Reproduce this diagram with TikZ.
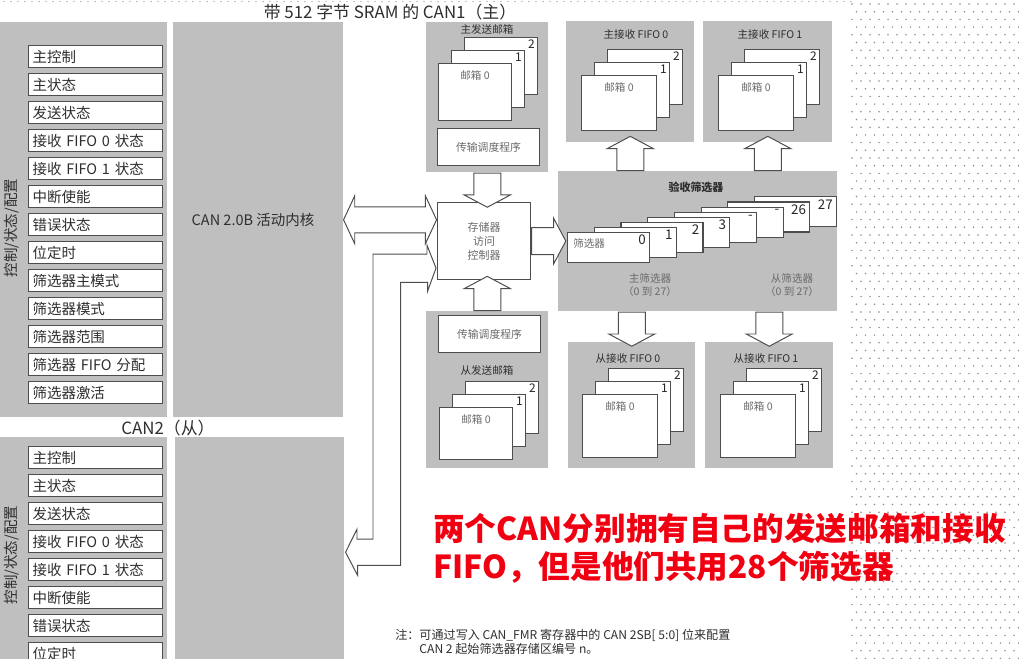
\documentclass[tikz,border=0pt]{standalone}
\usepackage{fontspec}
\setmainfont{Noto Sans CJK SC}
\usetikzlibrary{calc,shapes.arrows}
\definecolor{panelgray}{HTML}{BFBFBF}
\definecolor{edgegray}{HTML}{4D4D4D}
\definecolor{textgray}{HTML}{2E2E2E}
\definecolor{labelgray}{HTML}{6A6A6A}
\definecolor{dotgray}{HTML}{8C8C8C}
\definecolor{alertred}{HTML}{F00010}
\newcommand{\pu}{0.025cm}
\newcommand{\fsz}[2]{\fontsize{#1}{#2}\selectfont}
% stack of three mailboxes: name, x, y of box 0 (top left), width, height
\newcommand{\mailstack}[5]{%
  \foreach \k in {2,1} {
    \node[mbox, minimum width=#4*\pu, minimum height=#5*\pu] (#1-\k) at (#2+13*\k, #3-13*\k) {};
    \node[mbnum] (#1-n\k) at ([shift={(-3,3)}]#1-\k.north east) {\k};
  }
  \node[mbox, minimum width=#4*\pu, minimum height=#5*\pu] (#1-0) at (#2,#3) {};
  \node[mblab, anchor=north] (#1-n0) at ([shift={(0,7)}]#1-0.north) {邮箱 0};
}

\begin{document}
\begin{tikzpicture}[x=\pu, y=-\pu,
  panel/.style={fill=panelgray, anchor=north west, inner sep=0pt},
  regbox/.style={draw=edgegray, line width=0.8pt, fill=white, anchor=north west,
    minimum height=22*\pu, text width=126*\pu, inner xsep=4*\pu, inner ysep=0pt,
    align=left, font=\fsz{10.3}{12}, text=textgray},
  mbox/.style={draw=edgegray, line width=0.8pt, fill=white, anchor=north west, inner sep=0pt},
  mbnum/.style={anchor=north east, inner sep=0pt, font=\fsz{8.5}{10}, text=black!85},
  mblab/.style={inner sep=0pt, font=\fsz{7.5}{9}, text=labelgray},
  grptitle/.style={inner sep=0pt, font=\fsz{7.5}{9}, text=textgray},
  sched/.style={mbox, minimum width=102*\pu, minimum height=37*\pu, font=\fsz{7.7}{9}, text=labelgray},
  card/.style={mbox, minimum width=82*\pu, minimum height=30*\pu},
  barrow/.style={single arrow, draw=edgegray, fill=white, line width=0.7pt, inner sep=13*\pu,
    single arrow head extend=9.5*\pu, single arrow tip angle=124, anchor=tail},
  dblarrow/.style={double arrow, draw=edgegray, fill=white, line width=0.7pt, inner sep=12.5*\pu,
    double arrow head extend=11*\pu, double arrow tip angle=130},
  busline/.style={draw=edgegray, fill=white, line width=0.7pt},
  vlab/.style={rotate=90, inner sep=0pt, font=\fsz{10.3}{12}, text=textgray},
  heading/.style={inner sep=0pt, font=\fsz{12}{14}, text=textgray},
  redtxt/.style={anchor=base west, inner sep=0pt, font=\fsz{22.5}{27}\bfseries, text=alertred},
  notetxt/.style={anchor=north west, inner sep=0pt, align=left, font=\fsz{8.6}{10}, text=textgray}]
  \clip (0,0) rectangle (1019,658);
  % ---- dotted backdrop ----
  \foreach \r in {0,...,85}
    \foreach \c in {0,...,18}
      \fill[dotgray] ({852+9*\c+4.5*mod(\r,2)}, {4+7.7*\r}) circle (0.85);
  \foreach \c in {0,...,121}
    \fill[dotgray] (4+7*\c, 1.5) circle (0.7);

  % ---- CAN1 (master) ----
  \node[heading] (t1) at (390,12) {带 512 字节 SRAM 的 CAN1（主）};
  \node[panel, minimum width=167*\pu, minimum height=395*\pu] (reg1) at (0,22) {};
  \node[panel, minimum width=170*\pu, minimum height=395*\pu] (core1) at (173,22) {};
  \node[vlab] (v1) at (12,228) {控制/状态/配置};
  \foreach \t [count=\i from 0] in {主控制,主状态,发送状态,接收 FIFO 0 状态,接收 FIFO 1 状态,
      中断使能,错误状态,位定时,筛选器主模式,筛选器模式,筛选器范围,筛选器 FIFO 分配,筛选器激活}
    \node[regbox] (ra\i) at (28,45+28*\i) {\t};
  \node[inner sep=0pt, font=\fsz{10.3}{12}, text=textgray] (k1) at (253,220) {CAN 2.0B 活动内核};

  % ---- CAN2 (slave) ----
  \node[heading] (t2) at (168,428) {CAN2（从）};
  \node[panel, minimum width=167*\pu, minimum height=230*\pu] (reg2) at (0,437) {};
  \node[panel, minimum width=169*\pu, minimum height=230*\pu] (core2) at (175,437) {};
  \node[vlab] (v2) at (12,555) {控制/状态/配置};
  \foreach \t [count=\i from 0] in {主控制,主状态,发送状态,接收 FIFO 0 状态,接收 FIFO 1 状态,
      中断使能,错误状态,位定时}
    \node[regbox] (rb\i) at (28,446+28*\i) {\t};

  % ---- transmit mailboxes ----
  \node[panel, minimum width=122*\pu, minimum height=150*\pu] (mtx) at (426,22) {};
  \node[grptitle] (mtxt) at (487,29) {主发送邮箱};
  \mailstack{mtxb}{438}{63}{73}{57}
  \node[sched] (mtts) at (437,128) {传输调度程序};
  \node[panel, minimum width=122*\pu, minimum height=157*\pu] (stx) at (426,311) {};
  \node[sched] (stts) at (438,315) {传输调度程序};
  \node[grptitle] (stxt) at (487,370) {从发送邮箱};
  \mailstack{stxb}{439}{407}{73}{52}

  % ---- memory access controller ----
  \node[mbox, minimum width=93*\pu, minimum height=77*\pu, align=center,
    font=\fsz{7.8}{9.8}, text=labelgray] (mac) at (437,202) {存储器\\访问\\控制器};

  % ---- receive FIFOs ----
  \node[panel, minimum width=128*\pu, minimum height=121*\pu] (mrx0) at (566,21) {};
  \node[grptitle] (mrx0t) at (636,35) {主接收 FIFO 0};
  \mailstack{mrx0b}{581}{75}{75}{55}
  \node[panel, minimum width=129*\pu, minimum height=121*\pu] (mrx1) at (703,21) {};
  \node[grptitle] (mrx1t) at (770,35) {主接收 FIFO 1};
  \mailstack{mrx1b}{718}{75}{75}{55}
  \node[panel, minimum width=127*\pu, minimum height=126*\pu] (srx0) at (568,342) {};
  \node[grptitle] (srx0t) at (628,358) {从接收 FIFO 0};
  \mailstack{srx0b}{582}{394}{75}{63}
  \node[panel, minimum width=128*\pu, minimum height=126*\pu] (srx1) at (705,342) {};
  \node[grptitle] (srx1t) at (766,358) {从接收 FIFO 1};
  \mailstack{srx1b}{720}{394}{75}{63}

  % ---- acceptance filters ----
  \node[panel, minimum width=279*\pu, minimum height=140*\pu] (filt) at (558,171) {};
  \node[grptitle, font=\fsz{7.8}{9}\bfseries] (filtt) at (696,187) {验收筛选器};
  \foreach \i/\n in {7/27,6/26,5/-,4/-,3/3,2/2,1/1,0/0} {
    \node[card] (fc\i) at (567+26.7*\i, 232-5.1*\i) {};
    \node[mbnum, font=\fsz{9.5}{11}] (fn\i) at ([shift={(-4,3)}]fc\i.north east) {\n};
  }
  \node[mblab, anchor=west] (fl0) at ([shift={(6,-4)}]fc0.west) {筛选器};
  \node[mblab, align=center] (mflt) at (650,285) {主筛选器\\（0 到 27）};
  \node[mblab, align=center] (sflt) at (792,285) {从筛选器\\（0 到 27）};

  % ---- data paths ----
  \node[barrow, shape border rotate=270, minimum height=29*\pu] (a1) at (mtx.south) {};
  \node[barrow, shape border rotate=90, minimum height=30*\pu] (a2) at (stx.north) {};
  \node[barrow, minimum height=29*\pu] (a3) at (mac.east) {};
  \node[barrow, shape border rotate=90, minimum height=29*\pu] (a4) at (mrx0.south |- filt.north) {};
  \node[barrow, shape border rotate=90, minimum height=29*\pu] (a5) at (mrx1.south |- filt.north) {};
  \node[barrow, shape border rotate=270, minimum height=29*\pu] (a6) at (srx0.north |- filt.south) {};
  \node[barrow, shape border rotate=270, minimum height=29*\pu] (a7) at (srx1.north |- filt.south) {};
  \node[dblarrow, minimum height=93*\pu] (bus1) at ($(core1.east)+(46.5,0)$) {};
  \coordinate (busR) at ($(mac.south west)+(-1,-12)$);
  \coordinate (busL) at ($(core2.east)+(1,0)$);
  \draw[busline] (busR) -- ++(-9,-23) -- ++(0,9) -- ++(-54,0) -- ++(0,285) -- ++(-16,0)
    -- ++(0,-10) -- (busL) -- ++(12,23) -- ++(0,-10) -- ++(43,0) -- ++(0,-283)
    -- ++(27,0) -- ++(0,9) -- cycle;

  % ---- remarks ----
  \node[redtxt] (msg1) at (433,540) {两个CAN分别拥有自己的发送邮箱和接收};
  \node[redtxt] (msg2) at (433,578) {FIFO，但是他们共用28个筛选器};
  \node[notetxt] (note) at (395,629) {注：可通过写入 CAN\_FMR 寄存器中的 CAN 2SB[ 5:0] 位来配置\\
    \hphantom{注：}CAN 2 起始筛选器存储区编号 n。};
\end{tikzpicture}
\end{document}
